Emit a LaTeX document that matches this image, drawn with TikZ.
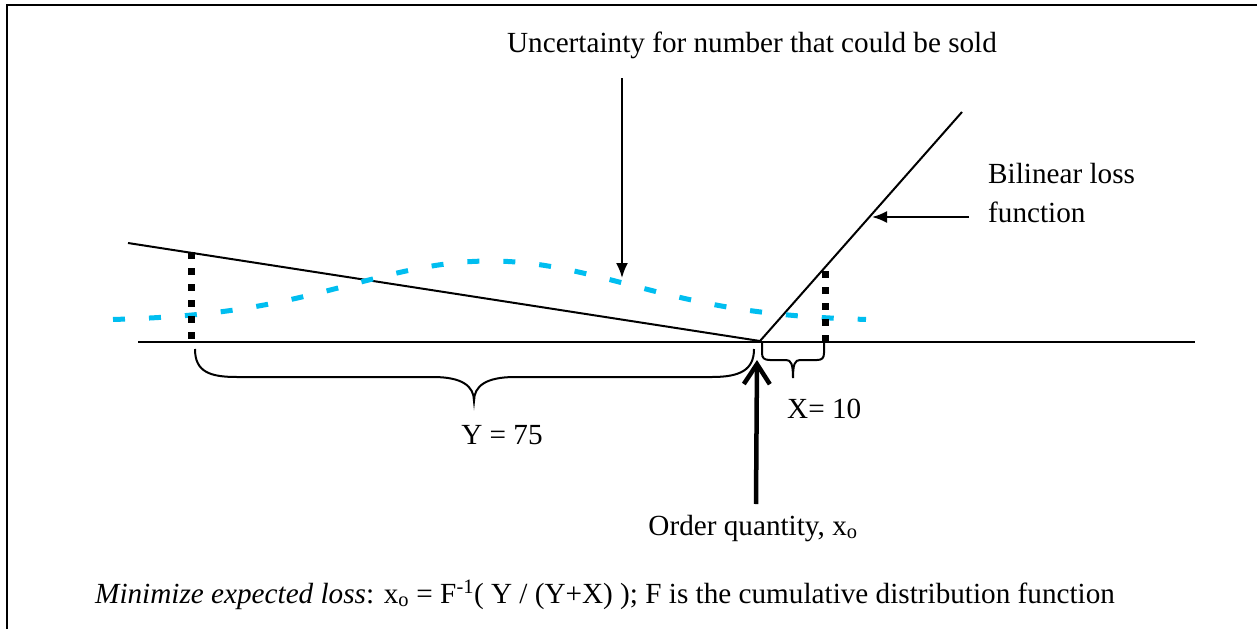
\documentclass[tikz,border=0pt]{standalone}
\usepackage{fontspec}
\setmainfont{Liberation Serif}
\usetikzlibrary{arrows.meta}
\definecolor{cyanline}{RGB}{0,190,240}
\tikzset{
  thinline/.style={line width=2pt, line cap=butt},
  lbl/.style={inner sep=0pt, font=\fontsize{29.2}{35}\selectfont},
  blackdots/.style={line width=7pt, dash pattern=on 7pt off 9pt},
  cyandash/.style={cyanline, line width=5pt, dash pattern=on 12pt off 24pt},
  bracestyle/.style={line width=2pt},
  thinarrow/.style={line width=2pt, -{Latex[length=15pt,width=12pt]}},
  thickarrow/.style={line width=4.5pt, -{Straight Barb[length=20pt,width=26pt]}}
}
\begin{document}
\begin{tikzpicture}[x=1pt,y=-1pt]
\useasboundingbox (0,0) rectangle (1257,629);
% frame (top and left edges)
\draw[line width=2.5pt] (7,629) -- (7,5) -- (1257,5);
% key points
\coordinate (O) at (760,341);
\coordinate (Lend) at (128,243);
\coordinate (Rend) at (962,112);
\coordinate (B1) at (138,342);
\coordinate (B2) at (1195,342);
% baseline
\draw[thinline] (B1) -- (B2);
% loss function
\draw[thinline] (Lend) -- (O) -- (Rend);
% demand distribution
\draw[cyandash] plot[domain=113:866, samples=120] (\x, {321-60*exp(-((\x-490)/139)^2/2)});
% dotted verticals
\coordinate (dL1) at (191,252);
\coordinate (dL2) at (191,339);
\coordinate (dR1) at (825,271);
\coordinate (dR2) at (825,343);
\draw[blackdots] (dL1) -- (dL2);
\draw[blackdots] (dR1) -- (dR2);
% labels
\node[lbl, anchor=base] (title) at (752,52) {Uncertainty for number that could be sold};
\node[lbl, anchor=base west] (bil1) at (988,183) {Bilinear loss};
\node[lbl, anchor=base west] (bil2) at (988,222) {function};
\node[lbl, anchor=base] (ylab) at (502,444) {Y = 75};
\node[lbl, anchor=base west] (xlab) at (787,418) {X= 10};
\node[lbl, anchor=base] (order) at (753,535) {Order quantity, x\textsubscript{o}};
\node[lbl, anchor=base west] (formula) at (95,603) {\textit{Minimize expected loss}: x\textsubscript{o} = F\textsuperscript{-1}( Y / (Y+X) ); F is the cumulative distribution function};
% arrows
\coordinate (tA) at (622,78);
\coordinate (tB) at (622,278);
\draw[thinarrow] (tA) -- (tB);
\coordinate (bA) at (969,217);
\coordinate (bB) at (872,217);
\draw[thinarrow] (bA) -- (bB);
\coordinate (oA) at (756,504);
\coordinate (oB) at (757,360);
\draw[thickarrow] (oA) -- (oB);
% brace Y
\draw[bracestyle] (195,349) .. controls (195,372) and (210,377) .. (237,377) -- (433,377)
  .. controls (462,377) and (474,386) .. (474,401)
  .. controls (474,386) and (486,377) .. (515,377) -- (712,377)
  .. controls (740,377) and (754,370) .. (754,349);
% brace X
\draw[bracestyle] (762,343) -- (762,353) .. controls (762,358) and (764,360) .. (770,360) -- (786,360)
  .. controls (791,360) and (793,364) .. (793,378)
  .. controls (793,364) and (795,360) .. (800,360) -- (817,360)
  .. controls (822,360) and (824,358) .. (824,353) -- (824,343);
\end{tikzpicture}
\end{document}
